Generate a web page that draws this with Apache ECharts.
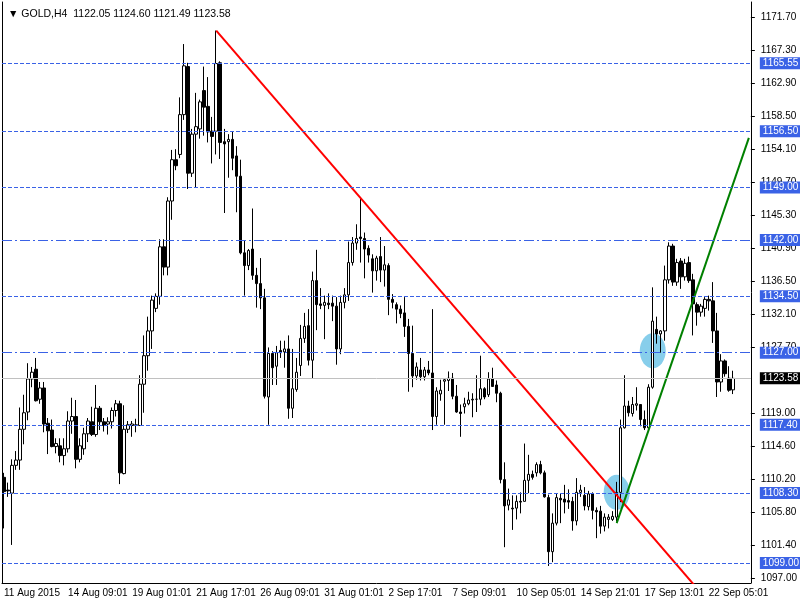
<!DOCTYPE html>
<html>
<head>
<meta charset="utf-8">
<script src="https://cdn.jsdelivr.net/npm/echarts@6/dist/echarts.min.js"></script>
<style>html,body{margin:0;padding:0;background:#fff;}#c{width:800px;height:600px;}</style>
</head>
<body>
<div id="c"></div>
<script>
var titleText = "\u25BC GOLD,H4  1122.05 1124.60 1121.49 1123.58";
var xLabels = ["11 Aug 2015","14 Aug 09:01","19 Aug 01:01","21 Aug 17:01","26 Aug 09:01","31 Aug 01:01","2 Sep 17:01","7 Sep 09:01","10 Sep 05:01","14 Sep 21:01","17 Sep 13:01","22 Sep 05:01"];
var yTicks = [1097.00,1101.40,1105.80,1110.20,1114.60,1119.00,1127.70,1132.10,1136.50,1140.90,1145.30,1149.70,1154.10,1158.50,1162.90,1167.30,1171.70];
var slotCount = 187;

var opens = [
1110.4,1108.7,1108.3,1112.0,1112.7,1116.8,1119.1,1123.5,1124.8,1120.8,
1122.3,1117.6,1116.7,1114.5,1114.6,1113.3,1114.2,1117.9,1118.5,1112.8,
1114.2,1116.2,1117.8,1116.1,1119.6,1117.8,1117.5,1117.8,1119.3,1120.2,
1110.9,1116.8,1117.3,1117.3,1117.3,1122.8,1126.6,1129.9,1132.9,1134.5,
1141.1,1138.4,1147.2,1152.7,1153.4,1158.7,1165.1,1150.9,1156.1,1156.8,
1161.9,1159.8,1156.5,1156.5,1165.6,1155.1,1155.1,1155.4,1153.2,1150.5,
1140.3,1138.6,1140.8,1137.3,1136.2,1134.3,1121.1,1126.9,1125.2,1127.3,
1127.1,1127.5,1119.6,1122.1,1125.3,1128.9,1130.6,1126.0,1136.6,1133.5,
1133.3,1133.6,1133.6,1133.2,1127.5,1133.7,1134.7,1139.0,1141.6,1142.4,
1142.2,1140.9,1139.5,1137.9,1139.8,1138.0,1138.6,1134.1,1133.4,1132.8,
1132.3,1130.5,1126.9,1123.9,1124.7,1123.8,1124.7,1124.3,1118.5,1121.5,
1123.2,1123.3,1123.6,1121.2,1119.1,1119.8,1120.2,1120.7,1120.8,1120.8,
1122.2,1121.4,1123.5,1122.7,1121.6,1110.1,1106.7,1106.3,1106.3,1107.2,
1107.2,1110.0,1110.8,1111.0,1112.1,1111.0,1107.7,1100.5,1104.3,1107.6,
1107.5,1107.3,1107.2,1104.6,1108.4,1108.0,1106.5,1108.2,1106.0,1105.9,
1103.9,1104.8,1104.8,1105.1,1108.4,1117.0,1119.9,1118.9,1120.0,1120.1,
1118.1,1117.0,1122.4,1130.1,1129.5,1129.9,1136.7,1141.2,1136.4,1139.2,
1137.1,1139.0,1136.7,1133.4,1132.4,1132.9,1134.1,1133.9,1129.9,1123.1,
1125.9,1123.6,1122.05];
var highs = [
1111.0,1109.7,1112.8,1113.9,1119.7,1121.4,1125.6,1125.1,1126.3,1123.1,
1123.1,1118.3,1118.1,1115.6,1115.6,1115.6,1119.2,1121.0,1120.7,1115.6,
1117.0,1118.3,1119.8,1122.7,1119.9,1118.3,1118.4,1119.7,1120.7,1120.6,
1120.0,1117.9,1117.9,1118.2,1124.0,1129.3,1131.8,1134.6,1134.9,1142.1,
1142.1,1147.7,1154.0,1154.1,1161.0,1168.1,1165.6,1156.8,1161.6,1160.7,
1165.1,1163.7,1158.4,1169.9,1165.8,1156.8,1156.1,1156.4,1154.5,1152.7,
1141.9,1140.8,1146.2,1138.3,1139.6,1135.5,1127.7,1127.2,1127.9,1128.6,
1128.6,1129.3,1127.5,1126.3,1130.7,1132.3,1132.8,1137.8,1140.7,1135.6,
1134.6,1134.9,1134.6,1134.4,1134.6,1135.6,1141.8,1142.4,1144.1,1147.7,
1143.0,1141.3,1140.1,1139.9,1142.4,1141.2,1138.9,1134.8,1133.7,1133.3,
1134.4,1131.5,1130.6,1125.7,1126.3,1125.1,1125.9,1132.8,1122.4,1123.4,
1123.6,1124.5,1124.3,1122.7,1120.1,1121.0,1121.8,1121.6,1124.0,1126.6,
1122.4,1124.4,1125.0,1123.3,1121.8,1112.4,1108.9,1108.0,1108.0,1108.4,
1114.9,1113.4,1111.3,1112.4,1112.6,1111.3,1108.1,1105.6,1108.3,1108.2,
1109.4,1108.8,1107.8,1110.3,1109.4,1109.1,1108.6,1108.4,1106.4,1106.6,
1105.6,1105.5,1105.9,1109.8,1118.1,1124.0,1120.6,1121.1,1122.4,1120.1,
1119.3,1122.8,1135.7,1131.8,1130.0,1138.6,1141.7,1141.5,1139.5,1139.6,
1139.5,1139.8,1137.5,1133.7,1133.5,1134.4,1134.6,1136.4,1132.3,1126.8,
1126.1,1125.2,1124.60];
var lows = [
1103.6,1107.8,1101.4,1111.4,1111.4,1114.8,1118.0,1122.4,1120.5,1120.2,
1116.4,1113.5,1114.4,1113.6,1112.4,1112.0,1113.7,1116.2,1111.6,1112.4,
1113.4,1115.1,1115.9,1115.8,1116.7,1116.5,1116.1,1116.9,1118.5,1109.5,
1110.8,1116.3,1115.8,1116.4,1117.3,1119.0,1124.6,1127.5,1132.4,1133.4,
1137.3,1137.3,1144.7,1151.3,1152.9,1158.0,1148.8,1150.4,1149.0,1155.5,
1155.9,1155.0,1152.2,1153.4,1152.8,1145.6,1150.3,1151.3,1145.7,1140.1,
1134.6,1138.0,1136.7,1133.0,1132.8,1120.9,1117.4,1122.7,1122.7,1126.3,
1125.0,1118.2,1118.3,1121.8,1123.9,1128.3,1125.3,1123.6,1130.0,1132.8,
1128.8,1132.8,1131.2,1125.4,1126.8,1132.9,1133.9,1138.6,1140.7,1139.0,
1136.9,1139.0,1135.0,1136.6,1136.4,1135.8,1132.0,1132.9,1130.9,1131.6,
1129.1,1121.8,1122.4,1123.4,1123.3,1123.3,1124.0,1116.7,1117.4,1120.6,
1117.4,1121.9,1120.8,1119.0,1115.8,1118.9,1120.0,1118.4,1119.1,1120.0,
1120.8,1121.1,1122.5,1120.4,1109.6,1101.1,1106.0,1103.4,1104.8,1105.6,
1107.2,1108.3,1110.1,1110.5,1110.8,1107.7,1098.6,1099.1,1104.0,1104.3,
1105.6,1106.2,1103.3,1104.0,1107.8,1106.0,1106.0,1104.8,1102.3,1102.9,
1103.2,1103.6,1104.6,1104.5,1107.1,1116.9,1118.5,1118.5,1119.3,1117.2,
1116.7,1116.9,1122.2,1128.2,1127.0,1128.6,1136.2,1135.9,1135.9,1135.5,
1136.6,1136.3,1129.3,1130.6,1131.8,1131.8,1132.6,1128.3,1121.1,1121.8,
1123.8,1121.8,1121.49];
var closes = [
1108.5,1108.6,1112.0,1112.7,1116.8,1119.0,1123.5,1124.4,1120.6,1122.3,
1117.5,1116.6,1114.5,1114.9,1113.3,1114.2,1117.9,1118.5,1112.8,1114.6,
1116.2,1117.9,1116.1,1119.6,1117.8,1117.3,1117.8,1119.3,1120.2,1111.0,
1116.8,1117.4,1117.5,1117.4,1122.8,1126.6,1129.9,1134.0,1134.5,1141.1,
1138.4,1147.2,1152.7,1151.9,1158.7,1165.2,1150.9,1156.1,1157.1,1160.4,
1159.7,1156.4,1155.8,1165.5,1155.0,1154.8,1155.4,1152.9,1150.5,1140.3,
1138.6,1140.6,1137.3,1136.2,1134.3,1121.2,1126.9,1125.0,1127.0,1127.0,
1127.5,1119.6,1122.2,1124.4,1128.9,1130.5,1126.0,1136.6,1133.4,1133.3,
1133.7,1133.4,1133.2,1127.5,1133.7,1134.7,1139.0,1141.6,1142.2,1142.2,
1140.8,1140.0,1137.9,1139.6,1138.0,1138.7,1134.1,1133.7,1132.8,1132.2,
1130.5,1126.9,1123.9,1125.1,1123.8,1124.7,1124.3,1118.5,1121.9,1122.0,
1123.4,1123.6,1121.2,1119.1,1118.9,1120.2,1120.7,1120.8,1120.8,1122.2,
1121.1,1123.5,1122.5,1121.6,1110.1,1106.6,1107.4,1106.2,1107.2,1107.1,
1110.0,1110.8,1110.4,1112.1,1111.0,1107.8,1100.5,1104.3,1107.7,1107.4,
1107.1,1107.1,1104.6,1108.4,1108.7,1106.6,1108.2,1106.0,1105.8,1103.9,
1105.1,1105.1,1105.2,1108.4,1117.0,1119.9,1119.0,1120.1,1120.2,1118.1,
1117.0,1122.4,1131.2,1129.5,1129.9,1136.7,1141.2,1136.4,1139.0,1137.1,
1138.9,1136.6,1133.5,1132.4,1133.2,1134.1,1133.9,1129.9,1123.1,1125.9,
1124.2,1122.0,1123.58];

var dashLevels = [1165.55, 1156.50, 1149.00, 1134.50, 1117.40, 1108.30, 1099.00];
var dashDotLevels = [1142.00, 1127.00];
var currentPrice = 1123.58;
var redTrend = [[53, 1169.9], [176, 1093.8]];
var greenTrend = [[153, 1104.3], [186, 1155.6]];
var ellipses = [[162.2, 1127.25], [153.2, 1108.4]];

var cats = [];
for (var i = 0; i < slotCount; i++) cats.push(String(i));
var candles = [];
for (var j = 0; j < opens.length; j++) candles.push([opens[j], closes[j], lows[j], highs[j]]);

var FONT = 'Liberation Sans';
var BLUE = '#3A62E6';
function lvlLabel(bg) {
  return {show: true, position: 'end', distance: 9, formatter: function (p) { return p.value.toFixed(2); },
    backgroundColor: bg, color: '#fff', padding: [1, 3, 0, 3], fontSize: 10, fontFamily: FONT, lineHeight: 11};
}
var mlData = [];
dashLevels.forEach(function (v) {
  mlData.push({yAxis: v, lineStyle: {color: BLUE, type: [4, 2], width: 1.2}, label: lvlLabel(BLUE)});
});
dashDotLevels.forEach(function (v) {
  mlData.push({yAxis: v, lineStyle: {color: BLUE, type: [10, 3, 2, 3], width: 1.2}, label: lvlLabel(BLUE)});
});
mlData.push({yAxis: currentPrice, lineStyle: {color: '#C0C0C0', type: 'solid', width: 1}, label: lvlLabel('#000')});

var chart = echarts.init(document.getElementById('c'), null, {renderer: 'canvas'});
chart.setOption({
  animation: false,
  backgroundColor: '#fff',
  title: {text: titleText, left: 3, top: 4, textStyle: {fontSize: 10.5, fontWeight: 'normal', color: '#000', fontFamily: FONT}},
  grid: {left: 2, right: 48, top: 2, bottom: 17},
  xAxis: {
    type: 'category', data: cats, boundaryGap: true,
    axisLine: {lineStyle: {color: '#000', width: 1}},
    axisTick: {interval: 15, alignWithLabel: true, length: 4, lineStyle: {color: '#000'}},
    axisLabel: {interval: 15, align: 'left', margin: 5, fontSize: 10, fontFamily: FONT, color: '#000',
      formatter: function (v, idx) { return idx % 16 === 0 ? (xLabels[idx / 16] || '') : ''; }},
    splitLine: {show: false}
  },
  yAxis: [{
    type: 'value', position: 'right', min: 1096.33, max: 1173.7, scale: true,
    axisLine: {show: true, lineStyle: {color: '#000', width: 1}},
    axisTick: {show: true, length: 4, customValues: yTicks, lineStyle: {color: '#000'}},
    axisLabel: {customValues: yTicks, margin: 10, fontSize: 10, fontFamily: FONT, color: '#000',
      formatter: function (v) { return v.toFixed(2); }},
    splitLine: {show: false}
  }, {
    type: 'value', position: 'left', min: 1096.33, max: 1173.7,
    axisLine: {show: true, onZero: false, lineStyle: {color: '#000', width: 1}},
    axisTick: {show: false}, axisLabel: {show: false}, splitLine: {show: false}
  }],
  series: [
    {type: 'line', data: [], z: 1, silent: true,
     markLine: {silent: true, symbol: ['none', 'none'], animation: false, data: mlData}},
    {type: 'scatter', data: ellipses, z: 2, symbol: 'circle', symbolSize: [26, 35], silent: true,
     itemStyle: {color: '#87CEEB', opacity: 1}},
    {type: 'candlestick', data: candles, z: 3, barWidth: 3,
     itemStyle: {color: '#ffffff', color0: '#000000', borderColor: '#000000', borderColor0: '#000000', borderWidth: 1}},
    {type: 'line', data: redTrend, z: 4, symbol: 'none', clip: true, lineStyle: {color: '#FF0000', width: 2}},
    {type: 'line', data: greenTrend, z: 4, symbol: 'none', clip: true, lineStyle: {color: '#008000', width: 2}}
  ]
});
</script>
</body>
</html>
